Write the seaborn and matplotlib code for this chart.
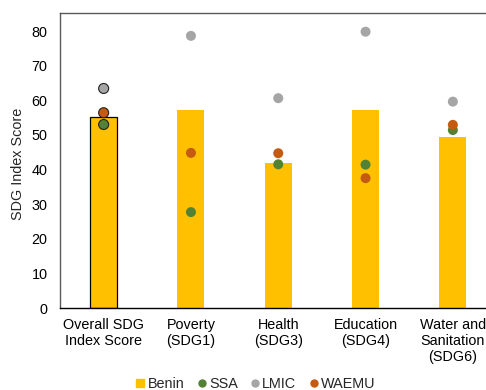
import matplotlib
matplotlib.use("Agg")
import matplotlib.pyplot as plt
from matplotlib.lines import Line2D
import seaborn as sns
import pandas as pd

categories = ["Overall SDG\nIndex Score", "Poverty\n(SDG1)", "Health\n(SDG3)",
              "Education\n(SDG4)", "Water and\nSanitation\n(SDG6)"]
benin = [55.1, 57.1, 41.9, 57.2, 49.4]
ssa = [53.0, 27.7, 41.5, 41.4, 51.4]
lmic = [63.4, 78.6, 60.6, 79.8, 59.6]
waemu = [56.4, 44.8, 44.7, 37.5, 52.9]

series_names = ["SSA", "LMIC", "WAEMU"]
colors = {"Benin": "#FFC000", "SSA": "#548235", "LMIC": "#A5A5A5", "WAEMU": "#C55A11"}

sns.set_theme(style="white")
plt.rcParams["font.family"] = ["Liberation Sans", "DejaVu Sans"]
fs = 10.4
plt.rcParams["font.size"] = fs

bars = pd.DataFrame({"category": categories, "score": benin})
points = pd.DataFrame({
    "category": categories * 3,
    "score": ssa + lmic + waemu,
    "series": [s for s in series_names for _ in categories],
})

fig = plt.figure(figsize=(4.86, 3.9), dpi=100)
ax = fig.add_axes([60 / 486, 82 / 390, 436.5 / 486, 295 / 390])

sns.barplot(data=bars, x="category", y="score", order=categories,
            color=colors["Benin"], width=0.31, saturation=1, ax=ax)
for i, p in enumerate(ax.patches):
    if i == 0:
        p.set_edgecolor("black")
        p.set_linewidth(0.9)
    else:
        p.set_linewidth(0)

first = points[points["category"] == categories[0]]
rest = points[points["category"] != categories[0]]
sns.stripplot(data=rest, x="category", y="score", hue="series", order=categories,
              hue_order=series_names, palette=colors, jitter=False, size=7.2,
              linewidth=0, legend=False, ax=ax)
sns.stripplot(data=first, x="category", y="score", hue="series", order=categories,
              hue_order=series_names, palette=colors, jitter=False, size=7.2,
              linewidth=0.8, edgecolor="#222222", legend=False, ax=ax)

ax.set_xlim(-0.5, 4.5)
ax.set_ylim(0, 85.2)
ax.set_yticks(range(0, 81, 10))
ax.set_xlabel("")
ax.set_ylabel("SDG Index Score", fontsize=fs)
ax.yaxis.set_label_coords(-0.080, 0.49)
ax.tick_params(axis="both", length=0, labelsize=fs, colors="#000000")
ax.tick_params(axis="x", pad=7)
ax.tick_params(axis="y", pad=9)

for side in ["top", "left"]:
    ax.spines[side].set_color("#595959")
    ax.spines[side].set_linewidth(1.0)
ax.spines["bottom"].set_color("#000000")
ax.spines["bottom"].set_linewidth(1.0)
ax.spines["right"].set_visible(False)

handles = [Line2D([], [], marker="s", linestyle="", color=colors["Benin"], markersize=6)]
handles += [Line2D([], [], marker="o", linestyle="", color=colors[s], markersize=5)
            for s in series_names]
fig.legend(handles, ["Benin"] + series_names, loc="lower center", ncol=4,
           bbox_to_anchor=(0.527, -0.035), frameon=False, fontsize=fs,
           handlelength=0.5, handletextpad=0.25, columnspacing=0.95)

fig.savefig("out.png", dpi=100)
